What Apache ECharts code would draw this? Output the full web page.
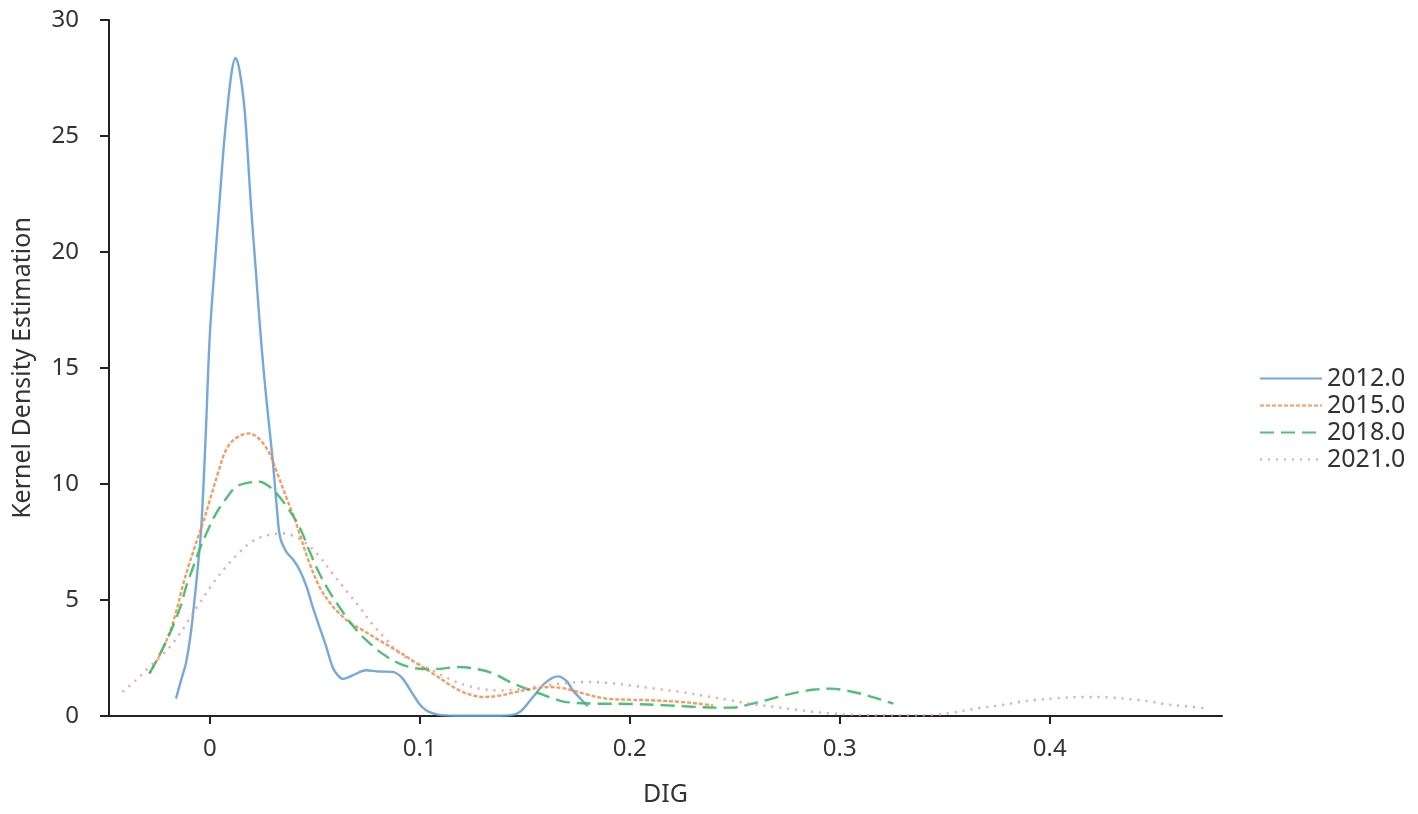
<!DOCTYPE html>
<html>
<head>
<meta charset="utf-8">
<script src="https://cdn.jsdelivr.net/npm/echarts@6/dist/echarts.min.js"></script>
<style>
html,body{margin:0;padding:0;background:#fff;}
#chart{width:1418px;height:814px;}
</style>
</head>
<body>
<div id="chart"></div>
<script>
const seriesNames = ['2012.0', '2015.0', '2018.0', '2021.0'];
const xTickValues = [0, 0.1, 0.2, 0.3, 0.4];

const dig2012 = [-0.0161,-0.0135,-0.0113,-0.0090,-0.0074,-0.0055,-0.0040,-0.0020,0.0000,0.0025,0.0045,0.0065,0.0085,0.0105,0.0122,0.0140,0.0164,0.0180,0.0196,0.0220,0.0244,0.0270,0.0300,0.0320,0.0335,0.0363,0.0400,0.0427,0.0460,0.0490,0.0520,0.0554,0.0585,0.0610,0.0635,0.0680,0.0744,0.0800,0.0871,0.0910,0.0935,0.0970,0.1000,0.1030,0.1060,0.1100,0.1200,0.1350,0.1440,0.1480,0.1539,0.1600,0.1658,0.1700,0.1729,0.1765,0.1800];
const kde2012 = [0.75,1.6,2.3,3.6,4.9,6.6,8.2,12.0,16.4,19.6,22.0,24.4,26.3,27.8,28.36,27.9,26.3,24.3,22.0,19.1,16.2,13.6,11.0,8.9,7.7,7.1,6.7,6.3,5.6,4.7,3.9,3.0,2.1,1.75,1.6,1.75,1.97,1.92,1.9,1.7,1.4,0.9,0.5,0.25,0.12,0.04,0.01,0.01,0.05,0.2,0.82,1.45,1.71,1.5,1.1,0.75,0.42];

const dig2015 = [-0.0288,-0.0240,-0.0193,-0.0160,-0.0130,-0.0100,-0.0066,-0.0030,0.0000,0.0040,0.0077,0.0120,0.0188,0.0240,0.0284,0.0320,0.0363,0.0400,0.0427,0.0470,0.0522,0.0570,0.0617,0.0670,0.0728,0.0800,0.0903,0.0980,0.1062,0.1142,0.1200,0.1253,0.1300,0.1380,0.1460,0.1540,0.1618,0.1680,0.1730,0.1800,0.1888,0.2000,0.2095,0.2254,0.2330,0.2397];
const kde2015 = [1.83,2.6,3.55,4.5,5.57,6.5,7.44,8.4,9.3,10.5,11.46,11.95,12.18,11.9,11.32,10.5,9.45,8.6,7.87,6.7,5.57,4.9,4.42,4.0,3.7,3.3,2.75,2.3,1.83,1.35,1.05,0.89,0.82,0.88,1.04,1.18,1.25,1.2,1.1,0.92,0.75,0.7,0.68,0.6,0.53,0.46];

const dig2018 = [-0.0288,-0.0230,-0.0177,-0.0140,-0.0113,-0.0080,-0.0050,-0.0010,0.0030,0.0080,0.0125,0.0180,0.0236,0.0290,0.0331,0.0380,0.0427,0.0475,0.0522,0.0570,0.0617,0.0680,0.0745,0.0820,0.0903,0.0980,0.1062,0.1189,0.1300,0.1370,0.1428,0.1500,0.1570,0.1640,0.1698,0.1856,0.2000,0.2174,0.2300,0.2413,0.2490,0.2570,0.2650,0.2730,0.2810,0.2880,0.2953,0.3030,0.3096,0.3180,0.3255];
const kde2018 = [1.83,2.8,3.84,4.7,5.57,6.4,7.15,8.0,8.73,9.4,9.88,10.05,10.1,9.85,9.45,8.85,8.15,7.1,6.14,5.35,4.7,3.9,3.27,2.7,2.26,2.06,2.02,2.11,1.97,1.75,1.47,1.2,0.97,0.74,0.6,0.53,0.52,0.46,0.4,0.36,0.36,0.5,0.68,0.88,1.04,1.14,1.18,1.1,0.97,0.75,0.53];

const dig2021 = [-0.0416,-0.0350,-0.0288,-0.0230,-0.0177,-0.0110,-0.0050,0.0010,0.0077,0.0130,0.0188,0.0260,0.0347,0.0400,0.0459,0.0520,0.0585,0.0650,0.0713,0.0770,0.0840,0.0903,0.0980,0.1060,0.1140,0.1221,0.1300,0.1380,0.1443,0.1520,0.1600,0.1700,0.1793,0.1900,0.2000,0.2120,0.2238,0.2360,0.2476,0.2580,0.2683,0.2800,0.2969,0.3100,0.3207,0.3330,0.3445,0.3520,0.3604,0.3680,0.3763,0.3840,0.3922,0.4040,0.4160,0.4280,0.4398,0.4480,0.4558,0.4650,0.4748];
const kde2021 = [1.04,1.55,2.11,2.6,3.12,4.0,4.85,5.65,6.43,6.95,7.44,7.75,7.87,7.75,7.44,6.9,6.14,5.4,4.7,4.0,3.3,2.7,2.3,1.97,1.6,1.32,1.16,1.1,1.12,1.22,1.32,1.42,1.47,1.42,1.32,1.18,1.04,0.86,0.68,0.52,0.4,0.26,0.1,0.05,0.03,0.03,0.05,0.12,0.25,0.36,0.46,0.58,0.68,0.77,0.82,0.8,0.71,0.62,0.5,0.42,0.32];

const zip = (xs, ys) => xs.map((x, i) => [x, ys[i]]);
const FONT = 'Noto Sans';
const TXT = '#333';

const chart = echarts.init(document.getElementById('chart'));
const styles = [
  {color: 'rgba(100,160,215,0.9)', type: 'solid'},
  {color: 'rgba(242,140,70,0.85)', type: [4, 2]},
  {color: 'rgba(60,185,105,0.9)', type: [14, 7]},
  {color: 'rgba(242,150,160,0.9)', type: [2, 6]}
];
const datas = [zip(dig2012, kde2012), zip(dig2015, kde2015), zip(dig2018, kde2018), zip(dig2021, kde2021)];

chart.setOption({
  backgroundColor: '#fff',
  animation: false,
  textStyle: {fontFamily: FONT},
  grid: {left: 109, right: 196, top: 20, bottom: 98},
  legend: {
    orient: 'vertical',
    left: 1254,
    top: 361,
    itemWidth: 62,
    itemHeight: 14,
    itemGap: 2,
    itemStyle: {opacity: 0},
    textStyle: {fontSize: 25, color: TXT, fontFamily: FONT},
    data: seriesNames
  },
  xAxis: {
    type: 'value',
    min: -0.048,
    max: 0.482,
    name: 'DIG',
    nameLocation: 'middle',
    nameGap: 66,
    nameTextStyle: {fontSize: 25, color: TXT},
    splitLine: {show: false},
    axisLine: {show: true, onZero: false, lineStyle: {color: '#222', width: 2}},
    axisTick: {show: true, length: 8, lineStyle: {color: '#222', width: 2}, customValues: xTickValues},
    axisLabel: {fontSize: 24, color: TXT, margin: 21, customValues: xTickValues,
      formatter: v => String(Math.round(v * 10) / 10)}
  },
  yAxis: {
    type: 'value',
    min: 0,
    max: 30,
    interval: 5,
    name: 'Kernel Density Estimation',
    nameLocation: 'middle',
    nameGap: 74,
    nameTextStyle: {fontSize: 25, color: TXT},
    splitLine: {show: false},
    axisLine: {show: true, onZero: false, lineStyle: {color: '#222', width: 2}},
    axisTick: {show: true, length: 9, lineStyle: {color: '#222', width: 2}},
    axisLabel: {fontSize: 24, color: TXT, margin: 30}
  },
  series: seriesNames.map((n, i) => ({
    name: n,
    type: 'line',
    data: datas[i],
    smooth: 0.35,
    symbol: 'none',
    lineStyle: {color: styles[i].color, type: styles[i].type, width: 2.4},
    itemStyle: {color: styles[i].color}
  }))
});
</script>
</body>
</html>
